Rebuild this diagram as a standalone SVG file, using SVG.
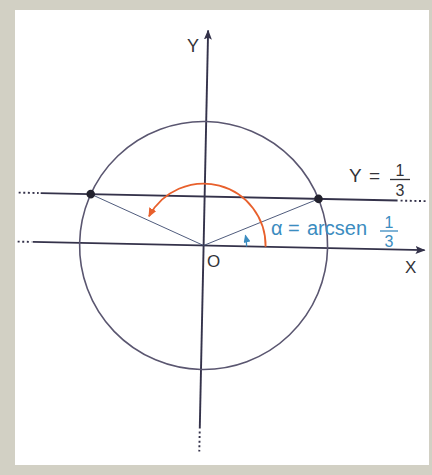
<svg xmlns="http://www.w3.org/2000/svg" width="432" height="475" viewBox="0 0 432 475">
<style>
.ax{stroke:#34324a;stroke-width:1.9;fill:none}
.dot{stroke:#34324a;stroke-width:1.9;fill:none;stroke-dasharray:2 2.6}
.circ{stroke:#5a5670;stroke-width:1.6;fill:none}
.rad{stroke:#3d4a6e;stroke-width:0.9;fill:none}
.lbl{font-family:"Liberation Sans",Arial,sans-serif;fill:#333338}
.blu{font-family:"Liberation Sans",Arial,sans-serif;fill:#3b8cc0}
</style>
<defs>
<marker id="ah" markerWidth="10" markerHeight="8" refX="9" refY="4" orient="auto" markerUnits="userSpaceOnUse"><path d="M0,0 L10,4 L0,8 L2,4 Z" fill="#34324a"/></marker>
<marker id="ao" markerWidth="9" markerHeight="8" refX="8" refY="4" orient="auto" markerUnits="userSpaceOnUse"><path d="M0,0 L9,4 L0,8 Z" fill="#e8602c"/></marker>
<marker id="ab" markerWidth="8" markerHeight="7" refX="7" refY="3.5" orient="auto" markerUnits="userSpaceOnUse"><path d="M0,0 L8,3.5 L0,7 Z" fill="#3b8cc0"/></marker>
</defs>
<rect x="0" y="0" width="432" height="475" fill="#d2d0c4"/>
<rect x="15" y="10" width="414" height="455" fill="#ffffff"/>
<g id="figure" transform="translate(203.6,245.5) rotate(1.2)">
<g id="connectors">
<line id="x-axis" class="ax" x1="-171" y1="0" x2="221" y2="0" marker-end="url(#ah)"/>
<line class="dot" x1="-186" y1="0" x2="-172" y2="0"/>
<line id="y-axis" class="ax" x1="0" y1="183" x2="0" y2="-215" marker-end="url(#ah)"/>
<line class="dot" x1="0" y1="186" x2="0" y2="206" stroke-dasharray="2 3"/>
<line id="y-third" class="ax" x1="-164" y1="-49" x2="193" y2="-49"/>
<line class="dot" x1="-186" y1="-49" x2="-166" y2="-49"/>
<line class="dot" x1="196" y1="-49" x2="222" y2="-49"/>
<line class="rad" x1="0" y1="0" x2="113.9" y2="-49"/>
<line class="rad" x1="0" y1="0" x2="-113.9" y2="-49"/>
<path id="orange-arc" d="M62,0 A62,62 0 0 0 -55.2,-28.1" stroke="#e8602c" stroke-width="1.8" fill="none" marker-end="url(#ao)"/>
<path id="alpha-arc" d="M43,0 A43,43 0 0 0 41.6,-11" stroke="#3b8cc0" stroke-width="1.3" fill="none" marker-end="url(#ab)"/>
</g>
<g id="circle"><circle class="circ" cx="0" cy="0" r="124"/></g>
<g id="p1"><circle cx="113.9" cy="-49" r="4.3" fill="#23222e"/></g>
<g id="p2"><circle cx="-113.9" cy="-49" r="4.3" fill="#23222e"/></g>
</g>
<g id="labels">
<text class="lbl" x="187" y="52" font-size="18">Y</text>
<text class="lbl" x="207" y="267" font-size="17">O</text>
<text class="lbl" x="405" y="273" font-size="17">X</text>
<g id="eq-y">
<text class="lbl" font-size="19" y="182"><tspan x="349">Y</tspan><tspan x="369">=</tspan></text>
<text class="lbl" font-size="16" x="400" y="176" text-anchor="middle">1</text>
<line x1="390" y1="179.5" x2="410" y2="179.5" stroke="#333338" stroke-width="1.3"/>
<text class="lbl" font-size="16" x="400" y="196" text-anchor="middle">3</text>
</g>
<g id="eq-alpha">
<text class="blu" font-size="20" y="235"><tspan x="271">α</tspan><tspan x="288">=</tspan><tspan x="307">arcsen</tspan></text>
<text class="blu" font-size="16" x="389" y="228" text-anchor="middle">1</text>
<line x1="380" y1="231" x2="398" y2="231" stroke="#3b8cc0" stroke-width="1.3"/>
<text class="blu" font-size="16" x="389" y="247" text-anchor="middle">3</text>
</g>
</g>
</svg>
